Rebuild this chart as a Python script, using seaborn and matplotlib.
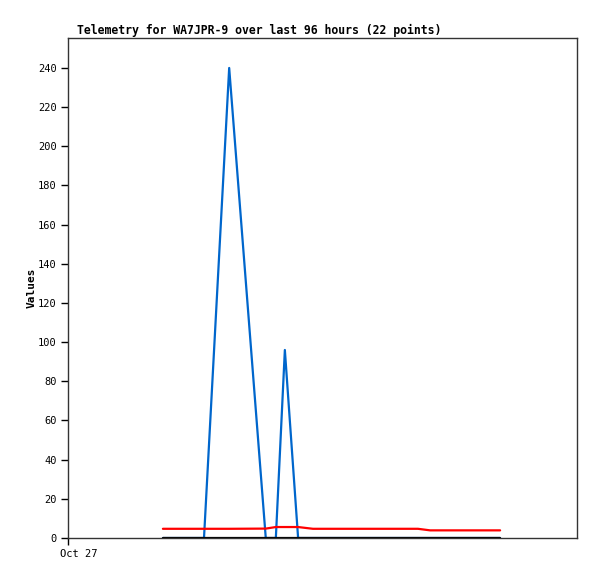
import numpy as np
import pandas as pd
import matplotlib
matplotlib.use("Agg")
import matplotlib.pyplot as plt
import matplotlib.transforms as mtransforms
import seaborn as sns

sns.set_style("ticks")
plt.rcParams['font.family'] = ['DejaVu Sans Mono']

# hours since Oct 27 00:00
hours = [17.9, 22.1, 25.65, 30.4, 37.3, 39.2, 40.9, 43.4, 46.2, 49.4, 53.2,
         57.0, 60.7, 63.6, 66.0, 68.3, 71.1, 73.9, 75.8, 77.7, 79.6, 81.5]
blue_vals = [0, 0, 0, 240, 0, 0, 96, 0, 0, 0, 0,
             0, 0, 0, 0, 0, 0, 0, 0, 0, 0, 0]
red_vals = [4.7, 4.7, 4.7, 4.7, 4.8, 5.6, 5.6, 5.6, 4.7, 4.7, 4.7,
            4.7, 4.7, 4.7, 4.7, 3.9, 3.9, 3.9, 3.9, 3.9, 3.9, 3.9]
black_vals = [0] * 22

df = pd.DataFrame({
    "hours": hours * 3,
    "value": blue_vals + red_vals + black_vals,
    "series": ["blue"] * 22 + ["red"] * 22 + ["black"] * 22,
})

fig = plt.figure(figsize=(5.97, 5.79), dpi=100)
ax = fig.add_axes([68 / 597, 1 - 538 / 579, 509 / 597, 500 / 579])
sns.lineplot(data=df, x="hours", y="value", hue="series",
             hue_order=["blue", "red", "black"],
             palette={"black": "#000000", "red": "#ff0000", "blue": "#0066cc"},
             linewidth=1.6, legend=False, ax=ax, estimator=None)

ax.set_xlim(0, 96)
ax.set_ylim(0, 255.3)
ax.set_yticks(np.arange(0, 241, 20))
ax.set_xticks([0])
ax.set_xticklabels(["Oct 27"])
ax.tick_params(labelsize=7.5, length=5, width=1, pad=3,
               color="#000000", labelcolor="#000000")
for lab in ax.get_xticklabels():
    lab.set_horizontalalignment("left")
    lab.set_transform(lab.get_transform() +
                      mtransforms.ScaledTranslation(-8 / 100, 0, fig.dpi_scale_trans))
ax.set_xlabel("")
ax.set_ylabel("Values", fontsize=8, fontweight="bold", color="#000000")
ax.yaxis.set_label_coords(-0.061, 0.5)
ax.set_title("Telemetry for WA7JPR-9 over last 96 hours (22 points)",
             loc="left", fontsize=8.3, fontweight="bold", x=0.017, pad=3,
             color="#000000")
for s in ax.spines.values():
    s.set_color("#333333")
    s.set_linewidth(1)

fig.savefig("out.png", dpi=100)
